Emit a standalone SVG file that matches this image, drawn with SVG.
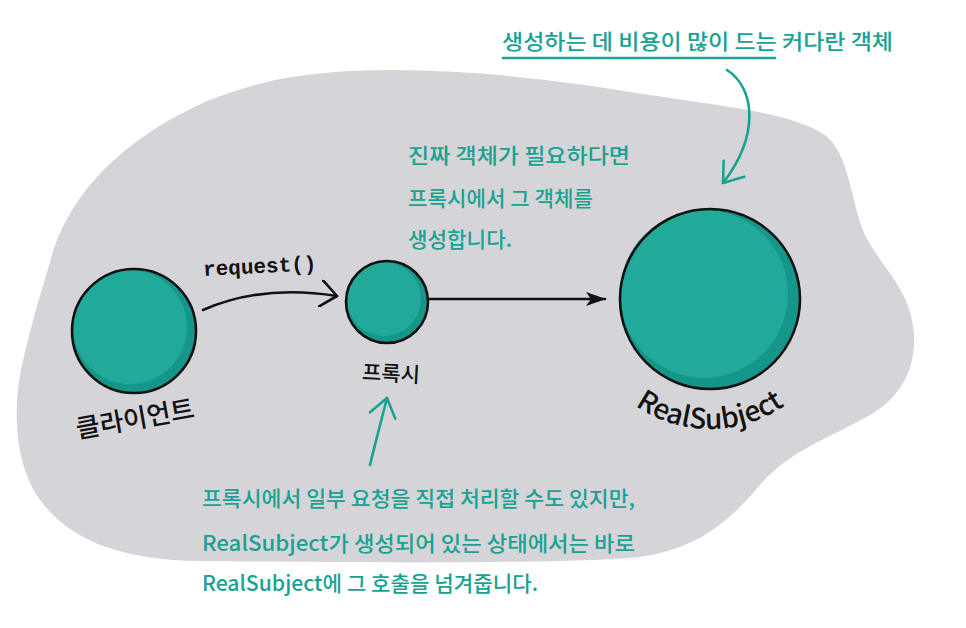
<svg xmlns="http://www.w3.org/2000/svg" width="966" height="628" viewBox="0 0 966 628">
  <style>
    .note { font-family: "Noto Sans CJK KR", "Noto Sans", sans-serif; font-size: 21px; fill: #19a293; font-weight: 500; }
    .label { font-family: "Noto Sans CJK KR", "Noto Sans", sans-serif; fill: #111; font-weight: 500; }
    .shade { fill: #14968a; }
    .face { fill: #21a999; }
    .rim { fill: none; stroke: #111; stroke-width: 2.6; }
    .blk { fill: none; stroke: #111; stroke-width: 2.6; stroke-linecap: round; }
    .teal { fill: none; stroke: #19a293; stroke-width: 2.6; stroke-linecap: round; }
  </style>
  <defs>
    <marker id="openBlack" viewBox="0 0 20 28" refX="18" refY="14" markerWidth="20" markerHeight="28" markerUnits="userSpaceOnUse" orient="auto">
      <path d="M2,1 L18,14 L2,27" fill="none" stroke="#111" stroke-width="2.6" stroke-linecap="round" stroke-linejoin="round"/>
    </marker>
    <marker id="openTeal" viewBox="0 0 22 30" refX="20" refY="15" markerWidth="22" markerHeight="30" markerUnits="userSpaceOnUse" orient="auto">
      <path d="M2,2 L20,15 L2,28" fill="none" stroke="#19a293" stroke-width="2.6" stroke-linecap="round" stroke-linejoin="round"/>
    </marker>
    <marker id="solidBlack" viewBox="0 0 20 16" refX="19" refY="8" markerWidth="20" markerHeight="16" markerUnits="userSpaceOnUse" orient="auto">
      <path d="M0,1 L20,8 L0,15 L5,8 Z" fill="#111"/>
    </marker>
    <path id="rsArc" d="M 580,299 A 128 128 0 0 0 840,299"/>
  </defs>

  <rect width="966" height="628" fill="#ffffff"/>

  <!-- background blob -->
  <path id="blob" fill="#d5d5d9" d="M 350,71 C 450,66 560,80 650,95 C 720,106 790,112 825,135 C 850,155 850,200 865,235 C 880,265 905,285 912,320 C 920,360 905,395 870,415 C 830,438 790,450 760,485 C 730,520 700,548 640,557 C 560,565 300,562 200,561 C 120,560 70,540 40,500 C 15,465 12,410 22,365 C 32,320 42,290 52,255 C 75,180 140,130 210,100 C 260,80 300,74 350,71 Z"/>

  <!-- connectors -->
  <g id="connectors">
    <path class="blk" d="M 203,310 Q 262,284 337,296" marker-end="url(#openBlack)"/>
    <path class="blk" d="M 429,299 L 605,299" marker-end="url(#solidBlack)"/>
    <path class="teal" d="M 727,70 C 755,88 760,135 723,183" marker-end="url(#openTeal)"/>
    <path class="teal" d="M 370,465 C 376,440 382,418 387,398" marker-end="url(#openTeal)"/>
    <text x="203" y="273" transform="rotate(-3 260 266)" font-family="Liberation Mono, DejaVu Sans Mono, monospace" font-size="21" font-weight="bold" fill="#111">request()</text>
  </g>

  <!-- nodes -->
  <g id="client">
    <circle class="shade" cx="134" cy="331" r="62"/>
    <circle class="face" cx="130" cy="327" r="57"/>
    <circle class="rim" cx="134" cy="331" r="62"/>
    <text class="label" x="135" y="428" font-size="26" text-anchor="middle" transform="rotate(-10 135 418)">클라이언트</text>
  </g>

  <g id="proxy">
    <circle class="shade" cx="387" cy="302" r="41"/>
    <circle class="face" cx="384" cy="299" r="37"/>
    <circle class="rim" cx="387" cy="302" r="41"/>
    <text class="label" x="391" y="381" font-size="21" text-anchor="middle" transform="rotate(3 391 373)">프록시</text>
  </g>

  <g id="realsubject">
    <circle class="shade" cx="710" cy="299" r="90"/>
    <circle class="face" cx="704" cy="294" r="84"/>
    <circle class="rim" cx="710" cy="299" r="90"/>
    <text class="label" font-family="Noto Sans, sans-serif" font-size="28"><textPath href="#rsArc" startOffset="50%" text-anchor="middle">RealSubject</textPath></text>
  </g>

  <!-- notes -->
  <g id="note-top">
    <text class="note" x="502" y="49" textLength="391" lengthAdjust="spacingAndGlyphs">생성하는 데 비용이 많이 드는 커다란 객체</text>
    <line class="teal" x1="503" y1="58" x2="775" y2="58"/>
  </g>

  <g id="note-middle">
    <text class="note" x="408" y="163" textLength="222" lengthAdjust="spacingAndGlyphs">진짜 객체가 필요하다면</text>
    <text class="note" x="408" y="206" textLength="185" lengthAdjust="spacingAndGlyphs">프록시에서 그 객체를</text>
    <text class="note" x="408" y="247" textLength="104" lengthAdjust="spacingAndGlyphs">생성합니다.</text>
  </g>

  <g id="note-bottom">
    <text class="note" x="202" y="506" textLength="433" lengthAdjust="spacingAndGlyphs">프록시에서 일부 요청을 직접 처리할 수도 있지만,</text>
    <text class="note" x="202" y="551" textLength="433" lengthAdjust="spacingAndGlyphs">RealSubject가 생성되어 있는 상태에서는 바로</text>
    <text class="note" x="202" y="591" textLength="336" lengthAdjust="spacingAndGlyphs">RealSubject에 그 호출을 넘겨줍니다.</text>
  </g>
</svg>
